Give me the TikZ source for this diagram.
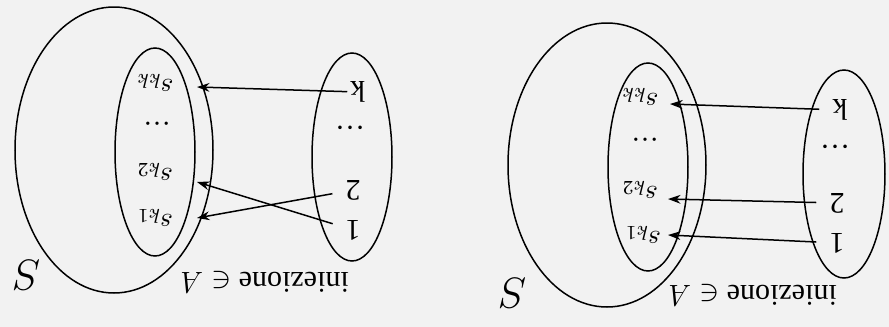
\documentclass[tikz,border=0pt]{standalone}
\usepackage{fontspec}
\setmainfont{Liberation Serif}
\usetikzlibrary{arrows.meta}
\tikzset{
  flip/.style={rotate=180, inner sep=1pt},
  elem/.style={flip, font=\fontsize{12}{14}\selectfont},
  img/.style={flip, font=\fontsize{11}{13}\selectfont},
  setname/.style={flip, font=\fontsize{16}{18}\selectfont},
  caption/.style={flip, font=\fontsize{12}{14}\selectfont},
  maps/.style={-{Stealth[length=5pt,width=3.5pt]}, shorten <=4pt},
}
\begin{document}
\begin{tikzpicture}[x=0.4pt, y=-0.4pt, line width=0.6pt]
  \fill[black!5] (0,0) rectangle (889,327);
  % left: the arrows cross
  \draw (114,150) ellipse (99 and 143);
  \draw (155,152) ellipse (40 and 104);
  \draw (352,157) ellipse (40 and 104);
  \node[img] (Lskk) at (155,83) {$s_{kk}$};
  \node[img] (Ldots) at (157,124) {\dots};
  \node[img] (Lsk2) at (155,172) {$s_{k2}$};
  \node[img] (Lsk1) at (155,218) {$s_{k1}$};
  \node[elem] (Lk) at (358,92) {k};
  \node[elem] (Lddots) at (350,128) {\dots};
  \node[elem] (L2) at (353,190) {2};
  \node[elem] (L1) at (353,230) {1};
  \node[setname] (LS) at (27,275) {$S$};
  \node[caption] (Lcap) at (265,282) {iniezione $\in A$};
  \coordinate (Ltk) at (197,87);
  \coordinate (Lt2) at (197,182);
  \coordinate (Lt1) at (197,218);
  \draw[maps, shorten <=0pt] (Lk) -- (Ltk);
  \draw[maps] (L2) -- (Lt1);
  \draw[maps] (L1) -- (Lt2);
  % right: straight arrows
  \draw (607,165) ellipse (99 and 142);
  \draw (648,167) ellipse (40 and 104);
  \draw (844,174) ellipse (41 and 104);
  \node[img] (Rskk) at (640,97) {$s_{kk}$};
  \node[img] (Rdots) at (645,140) {\dots};
  \node[img] (Rsk2) at (640,190) {$s_{k2}$};
  \node[img] (Rsk1) at (643,235) {$s_{k1}$};
  \node[elem] (Rk) at (840,110) {k};
  \node[elem] (Rddots) at (835,147) {\dots};
  \node[elem] (R2) at (837,203) {2};
  \node[elem] (R1) at (837,243) {1};
  \node[setname] (RS) at (513,293) {$S$};
  \node[caption] (Rcap) at (753,295) {iniezione $\in A$};
  \coordinate (Rtk) at (670,104);
  \coordinate (Rt2) at (668,199);
  \coordinate (Rt1) at (668,235);
  \draw[maps] (Rk) -- (Rtk);
  \draw[maps] (R2) -- (Rt2);
  \draw[maps] (R1) -- (Rt1);
\end{tikzpicture}
\end{document}
